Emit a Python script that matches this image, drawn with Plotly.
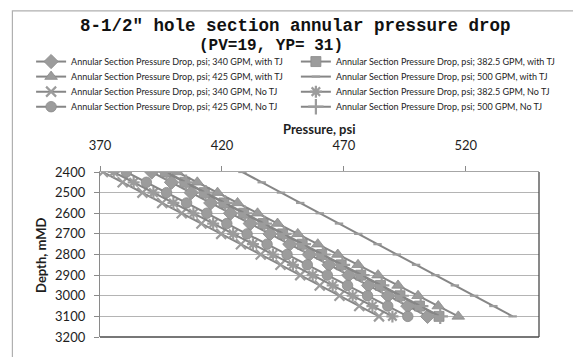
import plotly.graph_objects as go

# Measured depth of each reading, m
depth_m = [2400, 2450, 2500, 2550, 2600, 2650, 2700, 2750, 2800,
           2850, 2900, 2950, 3000, 3050, 3100]

# Annular pressure drop, psi
p_340_tj = [391.2, 399.3, 407.4, 415.4, 423.5, 431.6, 439.7, 447.8,
            455.8, 463.9, 472.0, 480.1, 488.1, 496.2, 504.3]
p_3825_tj = [396.8, 404.8, 412.8, 420.8, 428.9, 436.9, 444.9, 452.9,
             460.9, 468.9, 476.9, 485.0, 493.0, 501.0, 509.0]
p_425_tj = [401.7, 409.9, 418.2, 426.4, 434.6, 442.8, 451.1, 459.3,
            467.5, 475.8, 484.0, 492.2, 500.4, 508.7, 516.9]
p_500_tj = [428.4, 436.3, 444.2, 452.1, 460.1, 468.0, 475.9, 483.8,
            491.7, 499.6, 507.5, 515.5, 523.4, 531.3, 539.2]
p_340_no = [371.2, 379.3, 387.4, 395.5, 403.5, 411.6, 419.7, 427.8,
            435.9, 444.0, 452.1, 460.1, 468.2, 476.3, 484.4]
p_3825_no = [375.6, 383.8, 391.9, 400.1, 408.3, 416.4, 424.6, 432.7,
             440.9, 449.1, 457.2, 465.4, 473.6, 481.7, 489.9]
p_425_no = [380.8, 389.0, 397.3, 405.5, 413.8, 422.0, 430.3, 438.5,
            446.7, 455.0, 463.2, 471.5, 479.7, 488.0, 496.2]
p_500_no = [397.3, 405.3, 413.3, 421.3, 429.4, 437.4, 445.4, 453.4,
            461.4, 469.4, 477.4, 485.5, 493.5, 501.5, 509.5]

x_ticks = [370, 420, 470, 520]
y_ticks = [2400, 2500, 2600, 2700, 2800, 2900, 3000, 3100, 3200]

W, H = 573, 357
ML, MR, MT, MB = 100, 27, 172, 14
PW, PH = W - ML - MR, H - MT - MB


def px(x):
    return (x - ML) / PW


def py(y):
    return (H - MB - y) / PH


LINE = "#868686"
FILL = "#9c9c9c"
EDGE = "#8a8a8a"
TXT = "#1e1e1e"
FONT = "Lato"

# Legend grid: two columns, four rows (pixel anchors of each entry)
LEG_COLS = [30, 299]
LEG_ROWS = [61, 76.6, 92.2, 107.8]

series = [
    # name, values, symbol, size, (col, row)
    ("Annular Section Pressure Drop, psi; 340 GPM, with TJ", p_340_tj, "diamond", 11, (0, 0)),
    ("Annular Section Pressure Drop, psi; 382.5 GPM, with TJ", p_3825_tj, "square", 10, (1, 0)),
    ("Annular Section Pressure Drop, psi; 425 GPM, with TJ", p_425_tj, "triangle-up", 11, (0, 1)),
    ("Annular Section Pressure Drop, psi; 500 GPM, with TJ", p_500_tj, "line-ew-open", 6, (1, 1)),
    ("Annular Section Pressure Drop, psi; 340 GPM, No TJ", p_340_no, "x-thin-open", 10, (0, 2)),
    ("Annular Section Pressure Drop, psi; 382.5 GPM, No TJ", p_3825_no, "asterisk-open", 10, (1, 2)),
    ("Annular Section Pressure Drop, psi; 425 GPM, No TJ", p_425_no, "circle", 10.5, (0, 3)),
    ("Annular Section Pressure Drop, psi; 500 GPM, No TJ", p_500_no, "cross-thin-open", 11, (1, 3)),
]

fig = go.Figure()
legends = {}
for i, (name, vals, sym, size, (col, row)) in enumerate(series):
    key = "legend" if i == 0 else f"legend{i + 1}"
    is_open = sym.endswith("open")
    fig.add_trace(go.Scatter(
        x=vals, y=depth_m, name=name, mode="lines+markers", legend=key,
        line=dict(color=LINE, width=2),
        marker=dict(symbol=sym, size=size, color=FILL,
                    line=dict(color=EDGE, width=2.2 if is_open else 0.8)),
    ))
    legends[key] = dict(
        x=px(LEG_COLS[col]), y=py(LEG_ROWS[row] - 18.5),
        orientation="v", xanchor="left", yanchor="top",
        bgcolor="rgba(0,0,0,0)", borderwidth=0,
        font=dict(family=FONT, size=9, color=TXT),
        tracegroupgap=0, itemwidth=30,
    )

fig.update_layout(
    width=W, height=H,
    margin=dict(l=ML, r=MR, t=MT, b=MB, pad=0),
    paper_bgcolor="white", plot_bgcolor="white",
    font=dict(family=FONT, color=TXT),
    xaxis=dict(
        range=[370, 550], side="top", tickvals=x_ticks,
        ticks="outside", ticklen=5, tickcolor=EDGE, tickwidth=1,
        showgrid=False, zeroline=False,
        showline=True, linecolor="#a6a6a6", linewidth=1,
        tickfont=dict(family=FONT, size=13, color=TXT),
        ticklabelstandoff=11,
    ),
    yaxis=dict(
        range=[3200, 2400], tickvals=y_ticks,
        ticks="outside", ticklen=5, tickcolor=EDGE, tickwidth=1,
        showgrid=True, gridcolor="#b4b4b4", gridwidth=1, zeroline=False,
        showline=True, linecolor=EDGE, linewidth=1.3,
        tickfont=dict(family=FONT, size=13, color=TXT),
        ticklabelstandoff=6,
    ),
    showlegend=True,
    **legends,
)

# Chart frame and the dark right/bottom edges of the plot box
fig.add_shape(type="rect", xref="paper", yref="paper",
              x0=px(11), x1=px(620), y0=py(400), y1=py(5),
              line=dict(color="#b0b0b0", width=1.2), layer="below")
fig.add_shape(type="line", xref="paper", yref="paper",
              x0=1, x1=1, y0=0, y1=1, line=dict(color="#4a4a4a", width=1.3))
fig.add_shape(type="line", xref="paper", yref="paper",
              x0=0, x1=1, y0=0, y1=0, line=dict(color="#4a4a4a", width=1.3))

# Two-line chart title
fig.add_annotation(text="<b>8-1/2\" hole section annular pressure drop</b>",
                   xref="paper", yref="paper", x=px(299), y=py(20.5),
                   xanchor="center", yanchor="middle", showarrow=False,
                   borderpad=0,
                   font=dict(family="Liberation Mono", size=17.5, color="#111111"))
fig.add_annotation(text="<b>(PV=19, YP= 31)</b>",
                   xref="paper", yref="paper", x=px(274), y=py(41.5),
                   xanchor="center", yanchor="middle", showarrow=False,
                   borderpad=0,
                   font=dict(family="Liberation Mono", size=16, color="#111111"))

# Axis titles
fig.add_annotation(text="<b>Pressure, psi</b>", xref="paper", yref="paper",
                   x=px(323), y=py(127), xanchor="center", yanchor="middle",
                   showarrow=False, font=dict(family=FONT, size=13, color=TXT))
fig.add_annotation(text="<b>Depth, mMD</b>", xref="paper", yref="paper",
                   x=px(40), y=py(258), xanchor="center", yanchor="middle",
                   textangle=-90, showarrow=False,
                   font=dict(family=FONT, size=13, color=TXT))

fig.write_html("out.html")
